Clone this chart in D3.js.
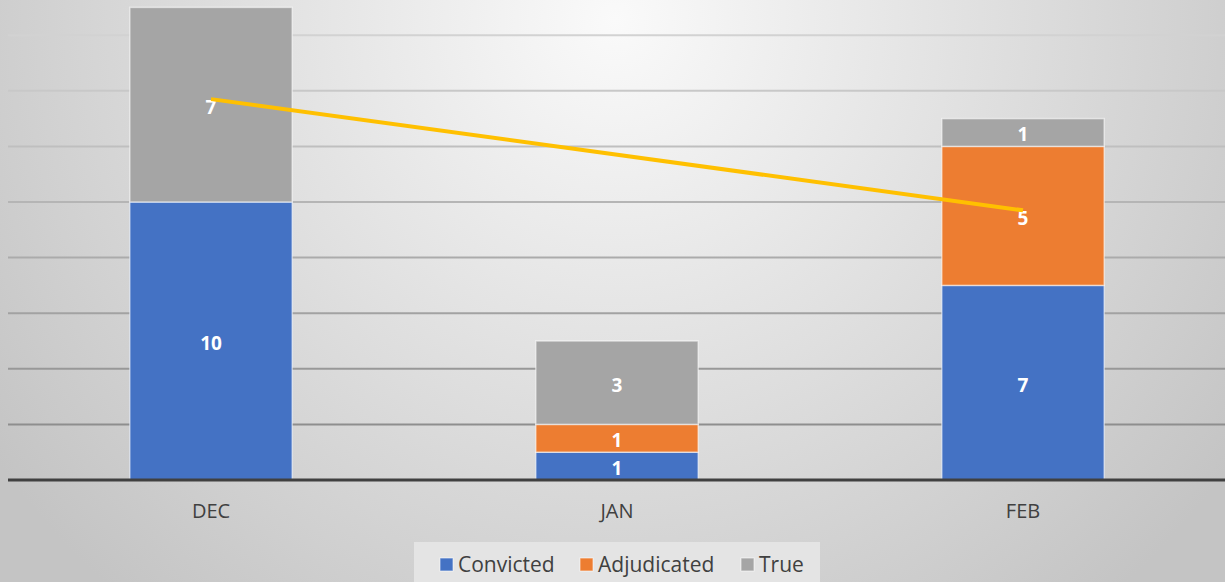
<!DOCTYPE html>
<html>
<head>
<meta charset="utf-8">
<script src="https://cdn.jsdelivr.net/npm/d3@7"></script>
<style>
  html, body { margin: 0; padding: 0; overflow: hidden; background: #d0d0d0; }
  svg { display: block; }
  text { font-family: "Open Sans", "Noto Sans", sans-serif; }
</style>
</head>
<body>
<svg id="chart" width="1225" height="582"></svg>
<script>
// ---- data ----
const categories = ["DEC", "JAN", "FEB"];
const seriesNames = ["Convicted", "Adjudicated", "True"];
const convicted = [10, 1, 7];
const adjudicated = [0, 1, 5];
const trueVals = [7, 3, 1];
const lineVals = [13.7, null, 9.7];
const yTicks = [0, 2, 4, 6, 8, 10, 12, 14, 16];
const colors = ["#4472C4", "#ED7D31", "#A5A5A5"];

const W = 1225, H = 582;
const svg = d3.select("#chart");
const defs = svg.append("defs");

const rg = defs.append("radialGradient").attr("id", "bg")
  .attr("gradientUnits", "userSpaceOnUse")
  .attr("cx", 615).attr("cy", 20).attr("r", 760);
rg.append("stop").attr("offset", "0").attr("stop-color", "#fafafa");
rg.append("stop").attr("offset", "1").attr("stop-color", "#c4c4c4");
svg.append("rect").attr("width", W).attr("height", H).attr("fill", "url(#bg)");

const x = d3.scaleBand().domain(categories).range([8, 1226]).paddingInner(0.6).paddingOuter(0.3);
const y = d3.scaleLinear().domain([0, 18]).range([480, -20.4]);

// gridlines
const gridColor = d3.scaleLinear().domain([36, 425]).range(["#d2d2d2", "#8e8e8e"]);
svg.append("g").selectAll("line").data(yTicks.filter(d => d > 0)).join("line")
  .attr("x1", 8).attr("x2", W)
  .attr("y1", d => y(d)).attr("y2", d => y(d))
  .attr("stroke", d => gridColor(y(d))).attr("stroke-width", 2);

// stacked bars
const rows = categories.map((c, i) => ({cat: c, Convicted: convicted[i], Adjudicated: adjudicated[i], True: trueVals[i]}));
const stack = d3.stack().keys(seriesNames)(rows);
const gBars = svg.append("g");
stack.forEach((layer, si) => {
  layer.forEach(seg => {
    const v = seg[1] - seg[0];
    if (v <= 0) return;
    gBars.append("rect")
      .attr("x", x(seg.data.cat))
      .attr("y", y(seg[1]))
      .attr("width", x.bandwidth())
      .attr("height", y(seg[0]) - y(seg[1]))
      .attr("fill", colors[si])
      .attr("stroke", "rgba(255,255,255,0.55)").attr("stroke-width", 1.5);
  });
});
// labels
stack.forEach((layer, si) => {
  layer.forEach(seg => {
    const v = seg[1] - seg[0];
    if (v <= 0) return;
    gBars.append("text")
      .attr("x", x(seg.data.cat) + x.bandwidth() / 2)
      .attr("y", y((seg[0] + seg[1]) / 2) + 2)
      .attr("dy", "0.36em")
      .attr("text-anchor", "middle")
      .attr("fill", "#ffffff").attr("font-weight", "bold").attr("font-size", 19)
      .text(v);
  });
});

// line
const linePts = categories.map((c, i) => ({cat: c, v: lineVals[i]})).filter(d => d.v != null);
svg.append("path").datum(linePts)
  .attr("fill", "none").attr("stroke", "#FFC000").attr("stroke-width", 4)
  .attr("d", d3.line().x(d => x(d.cat) + x.bandwidth() / 2).y(d => y(d.v)));

// axis
svg.append("line").attr("x1", 8).attr("x2", W).attr("y1", y(0)).attr("y2", y(0))
  .attr("stroke", "#404040").attr("stroke-width", 3);
svg.append("g").selectAll("text").data(categories).join("text")
  .attr("x", d => x(d) + x.bandwidth() / 2).attr("y", 518)
  .attr("text-anchor", "middle").attr("fill", "#404040").attr("font-size", 20)
  .text(d => d);

// legend
svg.append("rect").attr("x", 414).attr("y", 542).attr("width", 406).attr("height", 40)
  .attr("fill", "#e4e4e4");
const legX = [440, 580, 741];
const lg = svg.append("g").selectAll("g").data(seriesNames).join("g")
  .attr("transform", (d, i) => `translate(${legX[i]},0)`);
lg.append("rect").attr("x", 0).attr("y", 558).attr("width", 13).attr("height", 13)
  .attr("fill", (d, i) => colors[i]).attr("stroke", "rgba(255,255,255,0.6)").attr("stroke-width", 1);
lg.append("text").attr("x", 18).attr("y", 572).attr("fill", "#404040").attr("font-size", 21)
  .text(d => d);
</script>
</body>
</html>
